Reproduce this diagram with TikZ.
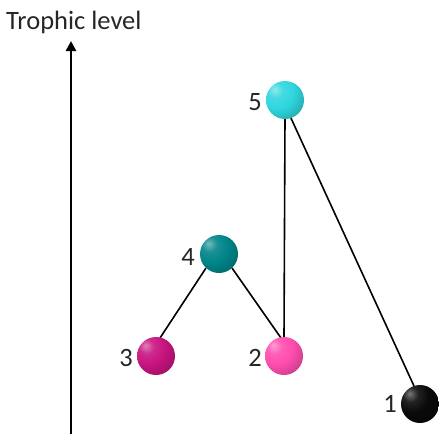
\documentclass[tikz,border=0pt]{standalone}
\usepackage{fontspec}
\setmainfont{Carlito}
\usetikzlibrary{arrows.meta}
\makeatletter
\pgfdeclareradialshading[tikz@ball]{sphere}{\pgfqpoint{-14bp}{14bp}}{%
  color(0bp)=(tikz@ball!55!white);
  color(10bp)=(tikz@ball!90!white);
  color(22bp)=(tikz@ball);
  color(34bp)=(tikz@ball!85!black);
  color(50bp)=(tikz@ball!65!black);
  color(100bp)=(tikz@ball!65!black)}
\makeatother
\definecolor{c5}{HTML}{2FD6DE}
\definecolor{c4}{HTML}{008589}
\definecolor{c3}{HTML}{C8137F}
\definecolor{c2}{HTML}{FF4DAF}
\definecolor{c1}{HTML}{0A0A0A}
\definecolor{txt}{HTML}{262626}
\tikzset{
  ballnode/.style={circle, minimum size=38pt, inner sep=0pt, ball color=#1, shading=sphere},
  lbl/.style={font=\fontsize{26.5}{26.5}\selectfont, text=txt, inner sep=0pt},
  edge/.style={line width=1.6pt, black},
}
\begin{document}
\begin{tikzpicture}[x=1pt, y=-1pt]
\useasboundingbox (0,0) rectangle (439,434);
% axis
\coordinate (abot) at (71,434);
\coordinate (atop) at (71,41);
\draw[line width=2.8pt, -{Triangle[length=10pt, width=10pt]}] (abot) -- (atop);
\node[lbl, anchor=base west] (title) at (6,29) {Trophic level};
% edge endpoints
\coordinate (e5a) at (285,118);
\coordinate (e5b) at (290,116);
\coordinate (e2t) at (284,338);
\coordinate (e2l) at (281,338);
\coordinate (e1t) at (414,386);
\coordinate (e4l) at (206,268);
\coordinate (e4r) at (232,268);
\coordinate (e3t) at (160,338);
\draw[edge] (e5a) -- (e2t);
\draw[edge] (e5b) -- (e1t);
\draw[edge] (e4l) -- (e3t);
\draw[edge] (e4r) -- (e2l);
% balls
\node[ballnode=c5] (n5) at (285,100) {};
\node[ballnode=c4] (n4) at (219,254) {};
\node[ballnode=c3] (n3) at (156,356) {};
\node[ballnode=c2] (n2) at (284,356) {};
\node[ballnode=c1] (n1) at (420,404) {};
% labels
\node[lbl] (l5) at (255,102) {5};
\node[lbl] (l4) at (188,257) {4};
\node[lbl] (l3) at (126,358) {3};
\node[lbl] (l2) at (255,358) {2};
\node[lbl] (l1) at (390,404) {1};
\end{tikzpicture}
\end{document}
